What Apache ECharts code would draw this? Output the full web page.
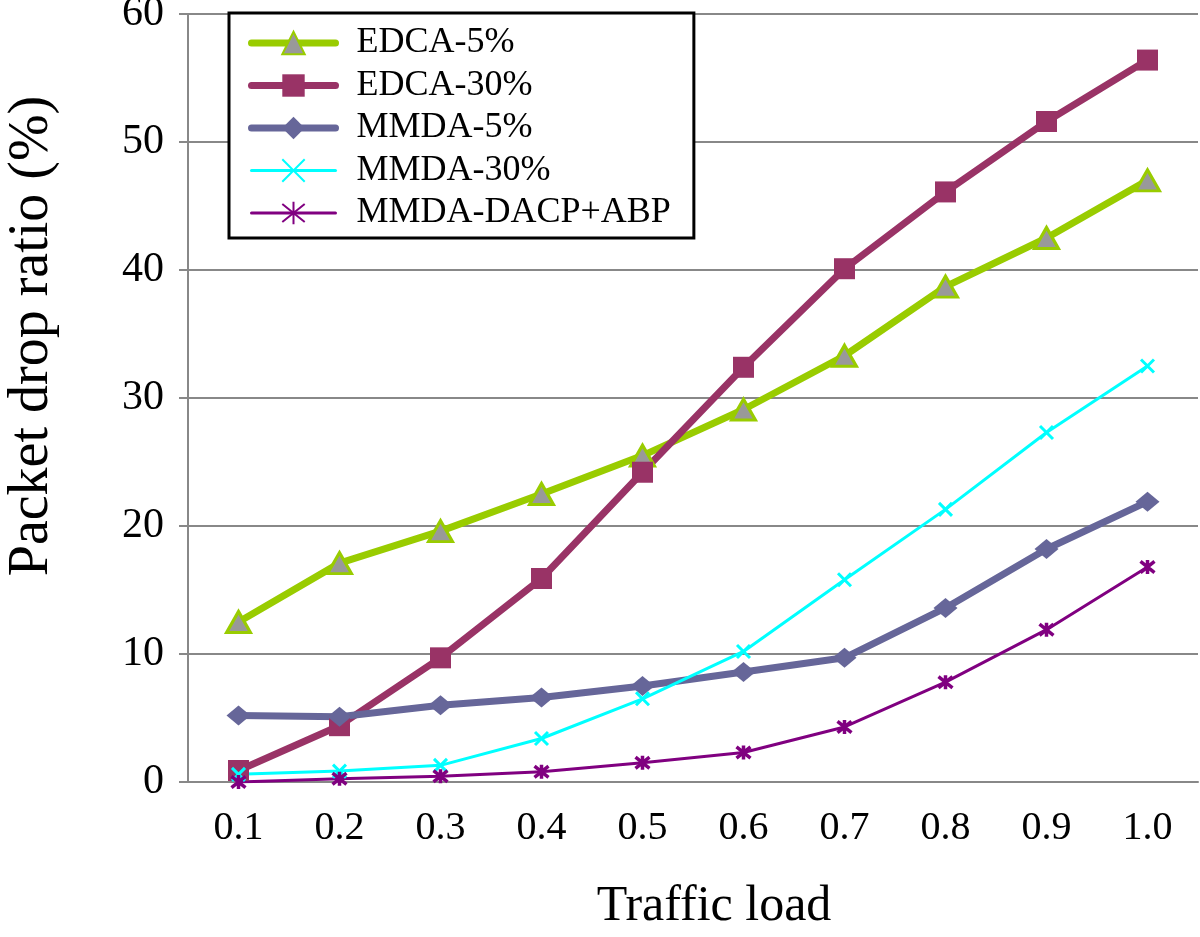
<!DOCTYPE html>
<html>
<head>
<meta charset="utf-8">
<script src="https://cdn.jsdelivr.net/npm/echarts@6/dist/echarts.min.js"></script>
<style>
html,body{margin:0;padding:0;background:#fff;}
#c{width:1200px;height:937px;}
</style>
</head>
<body>
<div id="c"></div>
<script>
const categories = ['0.1','0.2','0.3','0.4','0.5','0.6','0.7','0.8','0.9','1.0'];
const edca5  = [12.5, 17.1, 19.6, 22.5, 25.5, 29.1, 33.3, 38.7, 42.5, 47.0];
const edca30 = [0.9, 4.4, 9.7, 15.9, 24.2, 32.4, 40.1, 46.1, 51.6, 56.4];
const mmda5  = [5.2, 5.1, 6.0, 6.6, 7.5, 8.6, 9.7, 13.6, 18.2, 21.9];
const mmda30 = [0.6, 0.85, 1.3, 3.4, 6.5, 10.2, 15.8, 21.3, 27.3, 32.5];
const dacp   = [0.0, 0.25, 0.45, 0.8, 1.5, 2.3, 4.3, 7.8, 11.9, 16.8];
const seriesNames = ['EDCA-5%','EDCA-30%','MMDA-5%','MMDA-30%','MMDA-DACP+ABP'];
const yTicks = [0, 10, 20, 30, 40, 50, 60];

const FONT = "'Liberation Serif','Times New Roman',serif";
const chart = echarts.init(document.getElementById('c'), null, {renderer:'canvas'});

const xPath = 'path://M0,0L10,10M10,0L0,10';
const starPath = 'path://M1,1L9,9M9,1L1,9M5,0L5,10';

chart.setOption({
  backgroundColor: '#fff',
  animation: false,
  grid: {left: 188, right: 2, top: 14, bottom: 155, containLabel: false, outerBoundsMode: 'none'},
  legend: {
    orient: 'vertical',
    left: 229, top: 13,
    padding: [12, 23, 7, 19],
    borderColor: '#000', borderWidth: 3,
    backgroundColor: '#fff',
    itemWidth: 84, itemHeight: 28, itemGap: 6.5,
    lineStyle: {width: 'inherit', cap: 'round'},
    textStyle: {fontFamily: FONT, fontSize: 36, color: '#000', lineHeight: 36, padding: [0,0,0,16]},
    data: seriesNames
  },
  xAxis: {
    type: 'category',
    data: categories,
    boundaryGap: true,
    axisLine: {show: true, lineStyle: {color: '#888', width: 2}},
    axisTick: {show: false},
    axisLabel: {fontFamily: FONT, fontSize: 40, color: '#000', margin: 26},
    splitLine: {show: false},
    name: 'Traffic load',
    nameLocation: 'middle',
    nameGap: 100,
    nameTextStyle: {fontFamily: FONT, fontSize: 50, color: '#000', padding: [0, 0, 0, 42]}
  },
  yAxis: {
    type: 'value',
    min: yTicks[0], max: yTicks[yTicks.length-1], interval: 10,
    axisLine: {show: true, lineStyle: {color: '#888', width: 2}},
    axisTick: {show: true, length: 9, lineStyle: {color: '#888', width: 2}},
    axisLabel: {fontFamily: FONT, fontSize: 42, color: '#000', margin: 24},
    splitLine: {show: true, lineStyle: {color: '#888', width: 2}},
    name: 'Packet drop ratio (%)',
    nameLocation: 'middle',
    nameGap: 128,
    nameTextStyle: {fontFamily: FONT, fontSize: 56, color: '#000', padding: [0, 0, 0, 124]}
  },
  series: [
    {
      name: seriesNames[0], type: 'line', data: edca5,
      symbol: 'triangle', symbolSize: [24, 21],
      lineStyle: {color: '#99cc00', width: 7},
      itemStyle: {color: '#999999', borderColor: '#99cc00', borderWidth: 3}
    },
    {
      name: seriesNames[1], type: 'line', data: edca30,
      symbol: 'rect', symbolSize: 21,
      lineStyle: {color: '#993366', width: 7},
      itemStyle: {color: '#993366', borderColor: '#993366', borderWidth: 0}
    },
    {
      name: seriesNames[2], type: 'line', data: mmda5,
      symbol: 'diamond', symbolSize: [24, 20],
      lineStyle: {color: '#666699', width: 7},
      itemStyle: {color: '#666699', borderColor: '#666699', borderWidth: 0}
    },
    {
      name: seriesNames[3], type: 'line', data: mmda30,
      symbol: xPath, symbolSize: 13,
      lineStyle: {color: '#00ffff', width: 3},
      itemStyle: {color: '#00ffff', borderColor: '#00ffff', borderWidth: 3}
    },
    {
      name: seriesNames[4], type: 'line', data: dacp,
      symbol: starPath, symbolSize: 14,
      lineStyle: {color: '#800080', width: 3},
      itemStyle: {color: '#800080', borderColor: '#800080', borderWidth: 3.5}
    }
  ]
});
</script>
</body>
</html>
